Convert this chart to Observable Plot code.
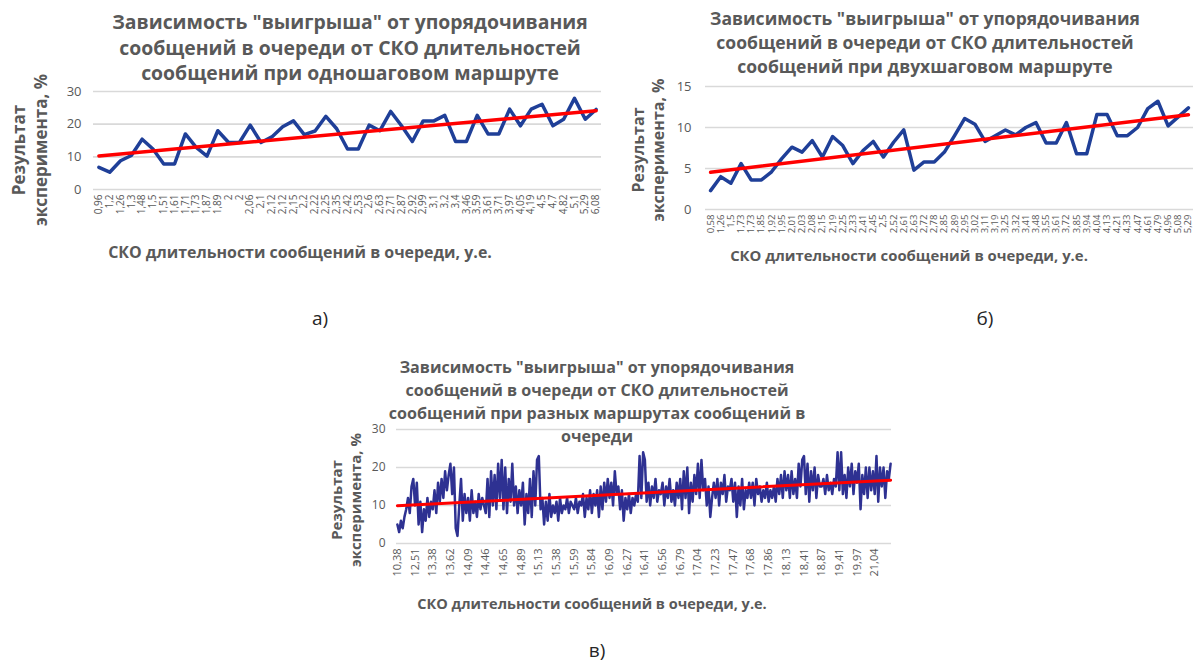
<!DOCTYPE html>
<html><head><meta charset="utf-8">
<script src="https://cdn.jsdelivr.net/npm/d3@7"></script>
<script src="https://cdn.jsdelivr.net/npm/@observablehq/plot@0.6"></script>
<style>
html,body{margin:0;padding:0;background:#fff;overflow:hidden;width:1193px;height:664px;}
#root{position:relative;width:1193px;height:664px;overflow:hidden;}
.abs{position:absolute;}
.title{font-family:"Open Sans";font-weight:700;color:#595959;text-align:center;white-space:nowrap;transform:translateX(-50%);}
.title span{display:inline-block;}
.xt{font-family:"Open Sans";font-weight:700;color:#595959;white-space:nowrap;transform:translate(-50%,-50%);}
.yt{font-family:"Open Sans";font-weight:700;color:#595959;white-space:nowrap;transform:translate(-50%,-50%) rotate(-90deg);}
.lab{font-family:"Open Sans";font-size:19px;color:#262626;transform:translate(-50%,-50%);}
svg{overflow:visible;}
</style></head><body><div id="root"></div>
<script>
// ---------- chart а) ----------
const aLabels = ["0,96","1,2","1,26","1,3","1,48","1,5","1,51","1,61","1,71","1,73","1,87","1,89","2","2","2,06","2,1","2,12","2,12","2,15","2,2","2,22","2,25","2,35","2,42","2,53","2,6","2,63","2,71","2,87","2,92","2,99","3,1","3,2","3,4","3,46","3,59","3,61","3,71","3,97","4,05","4,19","4,5","4,7","4,82","5,1","5,29","6,08"];
const aValues = [6.8,5.3,8.8,10.4,15.4,12.4,7.8,7.8,17.0,12.9,10.2,18.0,14.4,14.4,19.7,14.4,16.1,19.2,21.0,16.8,17.9,22.4,18.6,12.4,12.4,19.7,18.0,23.9,19.5,14.7,21.0,21.0,22.7,14.7,14.7,22.7,17.0,17.0,24.6,19.5,24.6,26.1,19.5,21.5,27.9,21.5,24.5];
const aTicksY = [0,10,20,30];

// ---------- chart б) ----------
const bLabels = ["0,58","1,26","1,5","1,73","1,73","1,85","1,92","1,95","2,01","2,03","2,08","2,15","2,19","2,25","2,33","2,41","2,45","2,5","2,52","2,61","2,63","2,72","2,78","2,85","2,89","2,95","3,02","3,11","3,19","3,25","3,32","3,41","3,48","3,55","3,61","3,72","3,85","3,94","4,04","4,13","4,21","4,33","4,47","4,61","4,79","4,96","5,08","5,29"];
const bValues = [2.3,4.0,3.2,5.6,3.6,3.6,4.6,6.2,7.6,7.0,8.4,6.4,8.9,7.8,5.6,7.2,8.3,6.4,8.2,9.7,4.8,5.8,5.8,7.0,9.0,11.1,10.4,8.3,9.0,9.7,9.1,10.0,10.6,8.1,8.1,10.6,6.8,6.8,11.6,11.6,9.0,9.0,10.0,12.3,13.2,10.2,11.3,12.4];
const bTicksY = [0,5,10,15];

// ---------- chart в) ----------
const cTickLabels = ["10,38","12,51","13,38","13,62","14,09","14,46","14,65","14,89","15,13","15,38","15,59","15,84","16,09","16,27","16,41","16,56","16,79","17,04","17,23","17,47","17,68","17,86","18,13","18,41","18,87","19,41","19,97","21,04"];
const cLabelStep = 10;
const cValues = [
5,3,6,4,7,9,12,8,15,17,
10,16,5,11,3,9,6,12,7,11,
9,14,8,16,11,17,12,19,14,18,
21,13,20,4,2,10,17,6,13,8,
12,6,14,8,11,7,13,9,12,10,
8,17,7,19,10,18,9,21,12,22,
9,20,8,17,11,21,10,15,8,14,
10,16,5,13,8,17,7,19,10,22,
23,9,12,5,11,6,13,7,10,8,
11,6,12,8,10,9,12,8,11,10,
9,12,8,11,10,13,7,12,9,14,
8,13,10,14,7,15,9,16,11,17,
12,16,10,19,13,15,9,14,6,12,
9,13,8,12,10,13,11,23,12,24,
22,11,16,10,15,12,17,11,14,13,
16,10,15,12,17,11,14,10,16,12,
17,9,19,12,20,8,16,11,18,13,
21,12,22,14,17,10,15,7,12,16,
12,17,10,16,13,18,11,15,14,17,
11,16,7,15,10,17,9,14,12,16,
12,16,10,17,13,15,11,14,12,16,
11,14,12,15,11,17,13,18,12,19,
14,18,12,19,13,17,12,21,15,22,
23,13,21,11,19,14,20,12,18,15,
15,17,13,18,14,16,13,17,15,24,
14,24,13,18,12,20,15,21,13,19,
16,21,9,18,13,20,12,20,14,19,
13,23,11,20,15,20,12,19,17,21];
const cTicksY = [0,10,20,30];

const titleA = ["Зависимость \"выигрыша\" от упорядочивания","сообщений в очереди от СКО длительностей","сообщений при одношаговом маршруте"];
const titleB = ["Зависимость \"выигрыша\" от упорядочивания","сообщений в очереди от СКО длительностей","сообщений при двухшаговом маршруте"];
const titleC = ["Зависимость \"выигрыша\" от упорядочивания","сообщений в очереди от СКО длительностей","сообщений при разных маршрутах сообщений в","очереди"];
const xTitle = "СКО длительности сообщений в очереди, у.е.";
const yTitle = ["Результат","эксперимента, %"];
const panelLabels = ["а)","б)","в)"];

const root = document.getElementById("root");
const GRID = "#d9d9d9", TXT = "#595959", RED = "#ff0000";

function chart(o){
  const data = o.values.map((v,i)=>({i:i+1, v}));
  const n = data.length;
  const svg = Plot.plot({
    width:o.width, height:o.height,
    marginLeft:o.ml, marginRight:o.mr, marginTop:o.mt, marginBottom:o.mb,
    style:{background:"transparent"},
    x:{type:"linear", domain:[0.5, n+0.5], axis:null},
    y:{domain:o.yDomain, axis:null},
    marks:[
      Plot.gridY(o.yTicks, {stroke:GRID, strokeOpacity:1, strokeWidth:1.6}),
      Plot.axisY(o.yTicks, {tickSize:0, tickPadding:o.yPad, fontSize:o.yFont, fill:TXT, label:null, fontFamily:"Open Sans"}),
      Plot.axisX(o.xTicks, {tickSize:0, tickPadding:o.xPad, tickRotate:-90, tickFormat:o.xFormat, fontSize:o.xFont, fill:TXT, label:null, fontFamily:"Open Sans"}),
      Plot.line(data, {x:"i", y:"v", stroke:o.color, strokeWidth:o.lw, strokeLinejoin:"round"}),
      Plot.linearRegressionY(data, {x:"i", y:"v", stroke:RED, strokeWidth:o.rw, ci:0})
    ]
  });
  svg.classList.add("abs");
  svg.style.left = o.left+"px"; svg.style.top = o.top+"px";
  root.appendChild(svg);
}

function addTitle(lines, cx, top, lh, targetW){
  const d = document.createElement("div");
  d.className = "abs title";
  d.style.left = cx+"px"; d.style.top = top+"px"; d.style.lineHeight = lh+"px"; d.style.fontSize="18px";
  d.innerHTML = lines.map(l=>`<span>${l}</span>`).join("<br>");
  root.appendChild(d);
  const w = d.querySelector("span").getBoundingClientRect().width;
  d.style.fontSize = (18*targetW/w)+"px";
}
function addXTitle(txt, cx, cy, targetW){
  const d = document.createElement("div");
  d.className="abs xt"; d.style.left=cx+"px"; d.style.top=cy+"px"; d.style.fontSize="15px";
  d.textContent = txt; root.appendChild(d);
  const w = d.getBoundingClientRect().width;
  d.style.fontSize = (15*targetW/w)+"px";
}
function addYTitle(lines, cx, cy, fs, lh){
  const d = document.createElement("div");
  d.className="abs yt"; d.style.left=cx+"px"; d.style.top=cy+"px"; d.style.fontSize=fs+"px"; d.style.lineHeight=lh+"px";
  d.style.textAlign="center";
  d.innerHTML = lines.join("<br>"); root.appendChild(d);
}
function addLabel(txt, cx, cy){
  const d = document.createElement("div");
  d.className="abs lab"; d.style.left=cx+"px"; d.style.top=cy+"px"; d.textContent=txt; root.appendChild(d);
}

// а)
chart({values:aValues, yDomain:[0,30], yTicks:aTicksY, left:0, top:80, width:601, height:180,
  ml:93, mr:0, mt:11, mb:71, yPad:12, yFont:13, xPad:5, xFont:10,
  xTicks:aLabels.map((_,k)=>k+1), xFormat:i=>aLabels[i-1], color:"#1f3f98", lw:3.5, rw:3.5});
// б)
chart({values:bValues, yDomain:[0,15], yTicks:bTicksY, left:600, top:70, width:593, height:190,
  ml:105, mr:0, mt:16, mb:51, yPad:14, yFont:13, xPad:5, xFont:9.5,
  xTicks:bLabels.map((_,k)=>k+1), xFormat:i=>bLabels[i-1], color:"#1f3f98", lw:3.5, rw:3.5});
// в)
chart({values:cValues, yDomain:[0,30], yTicks:cTicksY, left:300, top:420, width:600, height:170,
  ml:96, mr:9, mt:9, mb:47, yPad:11, yFont:12, xPad:5, xFont:11,
  xTicks:cTickLabels.map((_,k)=>1+k*cLabelStep), xFormat:i=>cTickLabels[(i-1)/cLabelStep], color:"#2e3192", lw:2.5, rw:3});

addTitle(titleA, 350, 9, 25.5, 476);
addTitle(titleB, 925, 6, 24, 430);
addTitle(titleC, 597, 356, 23, 395);
addXTitle(xTitle, 300, 252, 384);
addXTitle(xTitle, 909, 255, 358);
addXTitle(xTitle, 592, 603, 350);
addYTitle(yTitle, 30, 150, 17, 22);
addYTitle(yTitle, 648, 150, 16, 20);
addYTitle(yTitle, 346, 500, 15, 19);
addLabel(panelLabels[0], 320, 318);
addLabel(panelLabels[1], 985, 318);
addLabel(panelLabels[2], 597, 650);
</script></body></html>
